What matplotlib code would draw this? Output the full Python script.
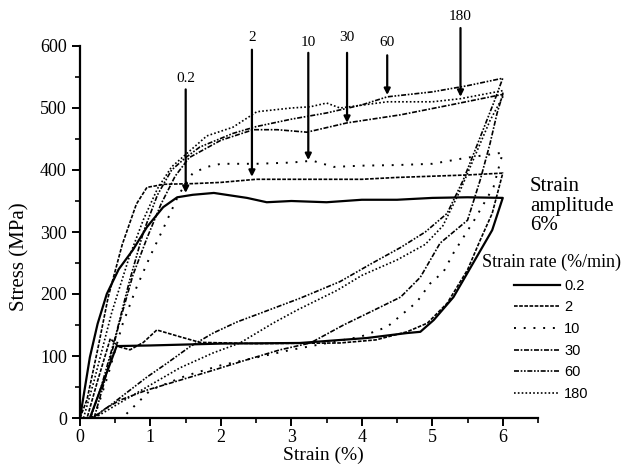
import matplotlib
matplotlib.use("Agg")
import matplotlib.pyplot as plt
from matplotlib.ticker import MultipleLocator

plt.rcParams['font.family'] = ['Liberation Serif', 'DejaVu Serif']

# ---- data (strain %, stress MPa) ----
rates = ['0.2', '2', '10', '30', '60', '180']

s02_x = [0.0, 0.14, 0.25, 0.38, 0.55, 0.75, 0.95, 1.18, 1.38, 1.6, 1.9, 2.37, 2.65, 3.0, 3.5, 4.0, 4.5, 5.0, 5.5, 6.0,
         6.0, 5.85, 5.58, 5.30, 5.02, 4.83, 4.64, 4.07, 3.12, 2.0, 1.0, 0.52, 0.14]
s02_y = [0, 98, 152, 200, 240, 271, 308, 340, 356, 360, 363, 355, 348, 350, 348, 352, 352, 355, 356, 355,
         355, 303, 250, 195, 158, 139, 137, 129, 121, 120, 117, 116, 0]

s2_x = [0.0, 0.1, 0.25, 0.4, 0.6, 0.8, 0.95, 1.2, 1.6, 2.0, 2.5, 3.0, 4.0, 4.5, 5.0, 5.5, 6.0,
        6.0, 5.85, 5.68, 5.5, 5.21, 4.93, 4.64, 4.2, 3.69, 2.5, 1.7, 1.42, 1.09, 0.9, 0.71, 0.55, 0.43, 0.25, 0.1]
s2_y = [0, 30, 110, 195, 280, 345, 372, 377, 378, 380, 385, 385, 385, 388, 390, 392, 395,
        395, 330, 287, 239, 185, 153, 139, 126, 121, 120, 122, 131, 142, 122, 110, 115, 128, 60, 0]

s10_x = [0.2, 0.4, 0.6, 0.8, 1.0, 1.2, 1.4, 1.6, 1.8, 2.0, 2.5, 3.0, 3.3, 3.6, 4.0, 4.5, 5.0, 5.5, 6.0,
         6.0, 5.87, 5.6, 5.3, 5.16, 4.97, 4.78, 4.36, 3.98, 3.0, 2.0, 1.5, 1.0, 0.6]
s10_y = [0, 70, 150, 210, 262, 310, 360, 395, 405, 410, 410, 412, 415, 405, 407, 408, 410, 420, 428,
         428, 373, 320, 266, 236, 217, 187, 147, 131, 110, 85, 68, 45, 0]

s30_x = [0.2, 0.35, 0.55, 0.75, 0.95, 1.15, 1.35, 1.55, 2.0, 2.46, 2.8, 3.22, 3.79, 4.55, 5.26, 6.0,
         6.0, 5.92, 5.82, 5.68, 5.5, 5.11, 4.83, 4.55, 4.12, 3.74, 3.27, 2.84, 2.37, 1.89, 1.42, 0.95, 0.57, 0.33, 0.2]
s30_y = [0, 60, 150, 230, 290, 345, 390, 420, 448, 465, 465, 461, 476, 489, 505, 522,
         522, 492, 443, 384, 319, 282, 227, 195, 171, 150, 121, 110, 94, 77, 61, 45, 29, 13, 0]

s60_x = [0.15, 0.3, 0.5, 0.7, 0.9, 1.1, 1.3, 1.5, 1.7, 2.17, 2.5, 3.0, 3.5, 4.0, 4.36, 5.0, 5.5, 6.0,
         6.0, 5.87, 5.68, 5.44, 5.21, 4.9, 4.55, 4.12, 3.69, 3.12, 2.56, 2.23, 1.89, 1.56, 1.23, 0.95, 0.71, 0.47, 0.28, 0.15]
s60_y = [0, 50, 130, 220, 300, 360, 400, 420, 437, 459, 470, 482, 492, 505, 518, 526, 536, 548,
         548, 508, 453, 384, 330, 300, 275, 248, 220, 193, 169, 155, 137, 115, 88, 66, 45, 24, 8, 0]

s180_x = [0.05, 0.2, 0.45, 0.7, 0.9, 1.1, 1.3, 1.5, 1.8, 2.17, 2.51, 3.0, 3.27, 3.5, 3.69, 4.36, 5.0, 5.4, 6.0,
          6.0, 5.82, 5.64, 5.40, 5.15, 4.9, 4.5, 4.0, 3.65, 3.08, 2.74, 2.27, 1.89, 1.42, 1.04, 0.71, 0.47, 0.28, 0.2]
s180_y = [0, 60, 170, 260, 320, 370, 405, 425, 455, 469, 494, 500, 502, 508, 500, 510, 510, 515, 528,
          518, 480, 432, 368, 310, 280, 255, 230, 206, 174, 153, 121, 105, 81, 56, 34, 18, 5, 0]

# arrows: label, x, tail stress, tip stress, label stress
arrow_lbl = ['0.2', '2', '10', '30', '60', '180']
arrow_x = [1.50, 2.44, 3.24, 3.79, 4.36, 5.40]
arrow_tail = [530, 594, 589, 589, 585, 629]
arrow_tip = [363, 389, 416, 476, 521, 518]
arrow_txt_y = [548, 613, 605, 613, 605, 647]

series = [(s02_x, s02_y), (s2_x, s2_y), (s10_x, s10_y), (s30_x, s30_y), (s60_x, s60_y), (s180_x, s180_y)]
styles = ['-', (0, (2.2, 0.9)), (0, (1, 4)), (0, (3, 1, 1, 1)), (0, (3, 1, 1, 1, 1, 1)), (0, (1, 1.3))]
widths = [1.6, 1.2, 1.4, 1.2, 1.2, 1.2]

fig = plt.figure(figsize=(6.27, 4.69), dpi=100)
ax = fig.add_axes([80/627, 1-418/469, (538-80)/627, (418-46)/469])

for (xs, ys), lab, ls, lw in zip(series, rates, styles, widths):
    ax.plot(xs, ys, color='black', linestyle=ls, linewidth=lw, label=lab)

for lbl, xa, yt, yp, ty in zip(arrow_lbl, arrow_x, arrow_tail, arrow_tip, arrow_txt_y):
    ax.annotate('', xy=(xa, yp), xytext=(xa, yt), annotation_clip=False,
                arrowprops=dict(arrowstyle='-|>', color='black', lw=1.6, mutation_scale=9,
                                shrinkA=0, shrinkB=0))
    ax.text(xa, ty, lbl, ha='center', va='center', fontsize=11, clip_on=False)

ax.set_xlim(0, 6.5)
ax.set_ylim(0, 600)
ax.set_xticks([0, 1, 2, 3, 4, 5, 6])
ax.xaxis.set_minor_locator(MultipleLocator(0.5))
ax.yaxis.set_major_locator(MultipleLocator(100))
ax.yaxis.set_minor_locator(MultipleLocator(50))
ax.spines['top'].set_visible(False)
ax.spines['right'].set_visible(False)
for sp in ['left', 'bottom']:
    ax.spines[sp].set_linewidth(1.6)
ax.tick_params(axis='both', which='major', direction='out', length=6, width=1.4, labelsize=13)
ax.tick_params(axis='both', which='minor', direction='out', length=3.5, width=1.2)
ax.tick_params(axis='x', pad=2)

ax.set_xlabel('Strain (%)', fontsize=14)
ax.set_ylabel('Stress (MPa)', fontsize=15)
ax.xaxis.set_label_coords((323-80)/458, (418-447)/372)
ax.yaxis.set_label_coords((29-80)/458, (418-257)/372)

fig.text(530/627, 1-206/469, 'Strain\namplitude\n6%', fontsize=15, ha='left', va='center',
         linespacing=1.05)

leg = fig.legend(loc='upper left', bbox_to_anchor=(482/627, 1-254/469), frameon=False,
                 title='Strain rate (%/min)', handlelength=3.1, handletextpad=0.3,
                 labelspacing=0.52, borderpad=0, borderaxespad=0,
                 prop={'family': ['Liberation Sans', 'DejaVu Sans'], 'size': 10.5})
leg.get_title().set_fontsize(13)
leg.get_title().set_family(['Liberation Serif', 'DejaVu Serif'])

fig.savefig('out.png', dpi=100)
